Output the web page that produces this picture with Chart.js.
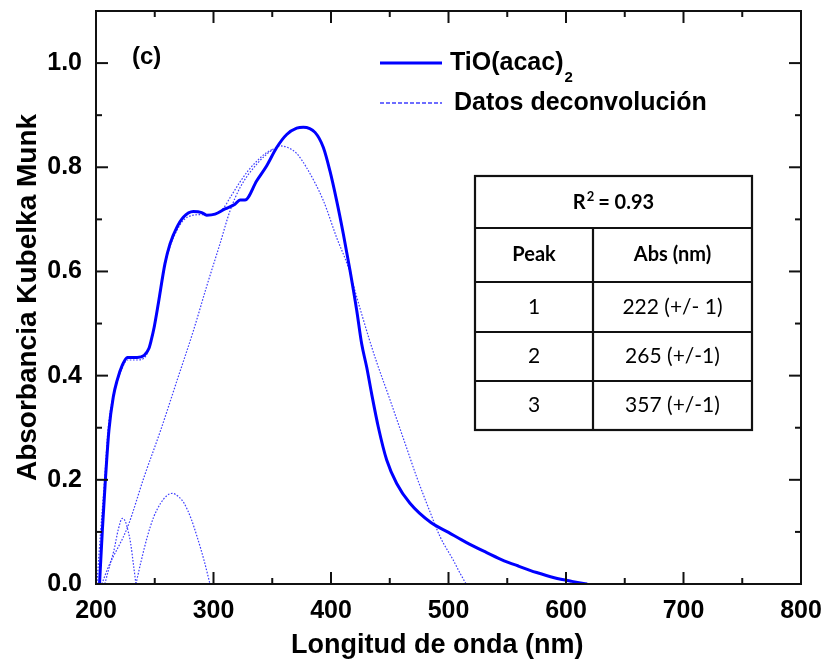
<!DOCTYPE html>
<html>
<head>
<meta charset="utf-8">
<script src="https://cdn.jsdelivr.net/npm/chart.js@4.4.1/dist/chart.umd.min.js"></script>
<style>
html,body{margin:0;padding:0;background:#fff;}
canvas{display:block;}
</style>
</head>
<body>
<canvas id="chart" width="829" height="664"></canvas>
<script>
// ---- Data ----
const mainX = [203, 205.4, 208, 211, 214.7, 218, 222.4, 226.7, 235, 241, 245, 247, 249.5, 253, 258.7, 263, 268.7, 274.3, 282.8, 290, 294.2, 301.3, 309.8, 318.3, 322.6, 326.8, 336.8, 345.3, 353.8, 362.3, 370.8, 376.4, 386.4, 393.5, 399.1, 404.8, 410.5, 416.2, 421.9, 426.1, 430.4, 434.6, 440.3, 447.4, 455.9, 467.2, 485, 500, 515, 530, 545, 560, 575, 590, 605, 618];
const mainY = [0, 0.103, 0.2, 0.295, 0.359, 0.391, 0.42, 0.435, 0.435, 0.439, 0.452, 0.468, 0.493, 0.538, 0.615, 0.653, 0.684, 0.704, 0.715, 0.713, 0.708, 0.71, 0.72, 0.729, 0.737, 0.737, 0.774, 0.803, 0.838, 0.863, 0.875, 0.877, 0.867, 0.838, 0.793, 0.736, 0.672, 0.602, 0.525, 0.461, 0.416, 0.365, 0.301, 0.238, 0.193, 0.155, 0.118, 0.099, 0.080, 0.063, 0.047, 0.034, 0.022, 0.012, 0.005, 0];

const fitX = [200.8, 204, 207.3, 210.2, 214, 217.5, 222, 226.7, 235, 241, 245, 247, 249.5, 253, 258.7, 263, 268.7, 274.3, 282.8, 290, 297, 303, 308, 315, 322.6, 330, 337, 345, 351];
const fitY = [0, 0.103, 0.2, 0.295, 0.355, 0.385, 0.413, 0.43, 0.43, 0.434, 0.45, 0.466, 0.49, 0.535, 0.612, 0.648, 0.678, 0.698, 0.708, 0.709, 0.708, 0.712, 0.72, 0.745, 0.772, 0.795, 0.812, 0.828, 0.835];

const peak1X = [207.5, 211, 215.3, 219, 222.4, 225, 227.5, 229.5, 232, 234];
const peak1Y = [0, 0.03, 0.065, 0.105, 0.126, 0.12, 0.1, 0.078, 0.035, 0];

const peak2X = [234, 238, 243.7, 249, 255, 260, 265, 270, 275, 281, 286, 292, 297];
const peak2Y = [0, 0.04, 0.091, 0.128, 0.155, 0.169, 0.174, 0.168, 0.155, 0.125, 0.091, 0.045, 0];

const peak3X = [205, 210, 227, 241, 255, 269, 283, 294, 305.5, 314, 322.6, 336.8, 351, 357, 365, 371, 379, 393.5, 404.8, 414.7, 422, 432, 439, 450, 461.5, 473, 484, 493, 504, 510, 515];
const peak3Y = [0, 0.03, 0.11, 0.206, 0.295, 0.391, 0.487, 0.57, 0.653, 0.716, 0.761, 0.806, 0.835, 0.841, 0.836, 0.826, 0.80, 0.736, 0.665, 0.608, 0.55, 0.474, 0.425, 0.355, 0.28, 0.205, 0.14, 0.09, 0.046, 0.02, 0];

// ticks
const xMajorTicks = [200, 300, 400, 500, 600, 700, 800];
const xMinorTicks = [250, 350, 450, 550, 650, 750];
const yMajorTicks = [0, 0.2, 0.4, 0.6, 0.8, 1.0];
const yMinorTicks = [0.1, 0.3, 0.5, 0.7, 0.9];

// texts
const seriesNames = ['TiO(acac)', 'Datos deconvolución'];
const panelLabel = '(c)';
const tableR2 = '0.93';
const tableHead = ['Peak', 'Abs (nm)'];
const tablePeaks = ['1', '2', '3'];
const tableAbs = ['222 (+/- 1)', '265 (+/-1)', '357 (+/-1)'];

// ---- Chart ----
const FONT = "'Liberation Sans', Arial, Helvetica, sans-serif";
const TFONT = "Lato, 'Open Sans', sans-serif";
const SOLID = '#0000ff';
const DOT = 'rgba(40,40,255,0.9)';
const pts = (xs, ys) => xs.map((x, i) => ({x: x, y: ys[i]}));
const dotStyle = {borderColor: DOT, borderWidth: 1.2, borderDash: [1.6, 1.6], pointRadius: 0, showLine: true, fill: false, cubicInterpolationMode: 'monotone'};

const decorPlugin = {
  id: 'decor',
  afterDraw(chart) {
    const ctx = chart.ctx;
    const {left, right, top, bottom} = chart.chartArea;
    const xs = chart.scales.x, ys = chart.scales.y;
    ctx.save();
    // frame
    ctx.strokeStyle = '#111';
    ctx.lineWidth = 2;
    ctx.strokeRect(left, top, right - left, bottom - top);
    // ticks (inward, all four sides)
    const tick = (x1, y1, x2, y2) => { ctx.beginPath(); ctx.moveTo(x1, y1); ctx.lineTo(x2, y2); ctx.stroke(); };
    xMajorTicks.forEach(v => { const p = xs.getPixelForValue(v); tick(p, bottom, p, bottom - 12); tick(p, top, p, top + 12); });
    xMinorTicks.forEach(v => { const p = xs.getPixelForValue(v); tick(p, bottom, p, bottom - 6); tick(p, top, p, top + 6); });
    yMajorTicks.forEach(v => { const p = ys.getPixelForValue(v); tick(left, p, left + 12, p); tick(right, p, right - 12, p); });
    yMinorTicks.forEach(v => { const p = ys.getPixelForValue(v); tick(left, p, left + 6, p); tick(right, p, right - 6, p); });

    // panel label
    ctx.fillStyle = '#000';
    ctx.font = 'bold 24px ' + FONT;
    ctx.textAlign = 'left';
    ctx.textBaseline = 'alphabetic';
    ctx.fillText(panelLabel, left + 36, top + 53);

    // legend
    const lx = left + 284, lx2 = left + 346;
    ctx.strokeStyle = SOLID; ctx.lineWidth = 3; ctx.setLineDash([]);
    tick(lx, top + 52, lx2, top + 52);
    ctx.strokeStyle = DOT; ctx.lineWidth = 1.5; ctx.setLineDash([4, 2]);
    tick(lx, top + 92, lx2, top + 92);
    ctx.setLineDash([]);
    ctx.font = 'bold 25px ' + FONT;
    ctx.fillText(seriesNames[0], left + 354, top + 59);
    const w0 = ctx.measureText(seriesNames[0]).width;
    ctx.font = 'bold 15px ' + FONT;
    ctx.fillText('2', left + 354 + w0 + 1, top + 71);
    ctx.font = 'bold 25px ' + FONT;
    ctx.fillText(seriesNames[1], left + 358, top + 99);

    // table
    const tx0 = left + 379, tx1 = left + 497, tx2 = left + 656;
    const rows = [top + 165, top + 217, top + 271, top + 321, top + 370, top + 419];
    ctx.fillStyle = '#fff';
    ctx.fillRect(tx0, rows[0], tx2 - tx0, rows[5] - rows[0]);
    ctx.strokeStyle = '#111'; ctx.lineWidth = 2.2;
    ctx.strokeRect(tx0, rows[0], tx2 - tx0, rows[5] - rows[0]);
    for (let i = 1; i < 5; i++) tick(tx0, rows[i], tx2, rows[i]);
    tick(tx1, rows[1], tx1, rows[5]);
    ctx.fillStyle = '#000';
    ctx.textBaseline = 'middle';
    // header R^2
    const cxAll = (tx0 + tx2) / 2, cyH = (rows[0] + rows[1]) / 2;
    ctx.font = 'bold 20px ' + TFONT;
    const wR = ctx.measureText('R').width;
    const wRest = ctx.measureText(' = ' + tableR2).width;
    ctx.font = 'bold 13px ' + TFONT;
    const wS = ctx.measureText('2').width;
    let sx = cxAll - (wR + wS + wRest) / 2;
    ctx.textAlign = 'left';
    ctx.font = 'bold 20px ' + TFONT;
    ctx.fillText('R', sx, cyH + 1);
    ctx.font = 'bold 13px ' + TFONT;
    ctx.fillText('2', sx + wR + 1, cyH - 5);
    ctx.font = 'bold 20px ' + TFONT;
    ctx.fillText(' = ' + tableR2, sx + wR + wS, cyH + 1);
    // column header
    ctx.textAlign = 'center';
    const c1 = (tx0 + tx1) / 2, c2 = (tx1 + tx2) / 2;
    const cy1 = (rows[1] + rows[2]) / 2;
    ctx.fillText(tableHead[0], c1, cy1);
    ctx.fillText(tableHead[1], c2, cy1);
    ctx.font = '21px ' + TFONT;
    for (let i = 0; i < 3; i++) {
      const cy = (rows[i + 2] + rows[i + 3]) / 2;
      ctx.fillText(tablePeaks[i], c1, cy);
      ctx.fillText(tableAbs[i], c2, cy);
    }
    ctx.restore();
  }
};

new Chart(document.getElementById('chart'), {
  type: 'scatter',
  data: {
    datasets: [
      {label: 'TiO(acac)2', data: pts(mainX, mainY), borderColor: SOLID, borderWidth: 3, pointRadius: 0, showLine: true, fill: false, cubicInterpolationMode: 'monotone'},
      Object.assign({label: 'Datos deconvolución', data: pts(fitX, fitY)}, dotStyle),
      Object.assign({label: 'Pico 1', data: pts(peak1X, peak1Y)}, dotStyle),
      Object.assign({label: 'Pico 2', data: pts(peak2X, peak2Y)}, dotStyle),
      Object.assign({label: 'Pico 3', data: pts(peak3X, peak3Y)}, dotStyle)
    ]
  },
  options: {
    responsive: false,
    animation: false,
    devicePixelRatio: 1,
    layout: {padding: {top: 11, right: 28, left: 0, bottom: 0}},
    plugins: {legend: {display: false}, tooltip: {enabled: false}},
    scales: {
      x: {
        type: 'linear', min: 200, max: 800,
        grid: {display: false, drawTicks: false},
        border: {display: false},
        ticks: {stepSize: 100, autoSkip: false, maxRotation: 0, padding: 12, color: '#000',
                font: {family: FONT, size: 25, weight: 'bold'}, callback: v => String(v)},
        title: {display: true, text: 'Longitud de onda (nm)\u00a0\u00a0\u00a0', color: '#000',
                font: {family: FONT, size: 27, weight: 'bold'}, padding: {top: 0, bottom: 2}},
        afterFit: s => { s.height = 80; s.paddingLeft = 0; s.paddingRight = 0; s.paddingTop = 0; s.paddingBottom = 0; }
      },
      y: {
        type: 'linear', min: 0, max: 1.1,
        grid: {display: false, drawTicks: false},
        border: {display: false},
        ticks: {stepSize: 0.2, includeBounds: false, padding: 14, color: '#000',
                font: {family: FONT, size: 25, weight: 'bold'}, callback: v => Number(v).toFixed(1)},
        afterBuildTicks: s => { s.ticks = s.ticks.filter(t => t.value <= 1.0001); },
        title: {display: true, text: 'Absorbancia Kubelka Munk', color: '#000',
                font: {family: FONT, size: 28, weight: 'bold'}, padding: {top: 11, bottom: 0}},
        afterFit: s => { s.width = 96; s.paddingLeft = 0; s.paddingRight = 0; s.paddingTop = 0; s.paddingBottom = 0; }
      }
    }
  },
  plugins: [decorPlugin]
});
</script>
</body>
</html>
